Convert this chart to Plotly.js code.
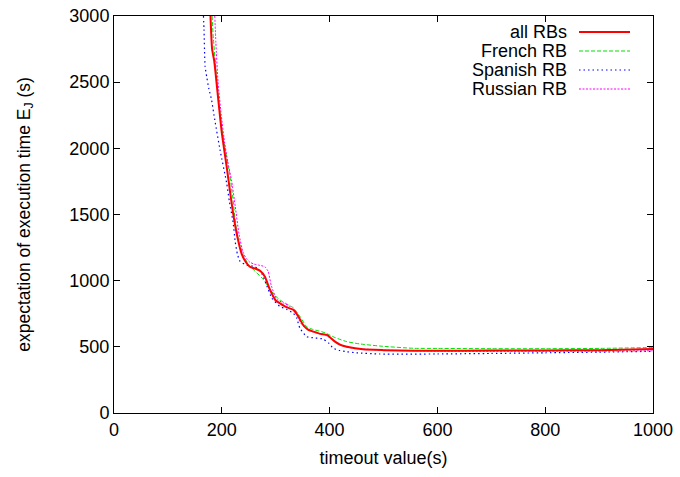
<!DOCTYPE html>
<html>
<head>
<meta charset="utf-8">
<script src="https://cdn.plot.ly/plotly-3.0.1.min.js"></script>
<style>html,body{margin:0;padding:0;background:#fff;}#chart{width:680px;height:477px;}</style>
</head>
<body>
<div id="chart"></div>
<script>
// Series names
const seriesNames = ["all RBs", "French RB", "Spanish RB", "Russian RB"];

// all RBs
const xAll = [179, 182, 186, 193.5, 200, 209, 221, 230, 237, 243, 252, 263, 271, 280, 289, 300, 308, 320, 333, 342, 351, 360, 370, 383, 395, 410, 420, 432, 462, 500, 555, 600, 700, 800, 900, 1000];
const yAll = [3000, 2750, 2660, 2366, 2116, 1862, 1509, 1310, 1200, 1150, 1105, 1090, 1075, 1030, 935, 850, 829, 800, 779, 730, 665, 630, 615, 598, 590, 539, 515, 501, 481, 475, 471, 470, 472, 472, 475, 483];

// French RB
const xFr = [182, 184, 188, 193, 200, 206, 214, 220, 226, 232, 240, 250, 262, 277, 290, 302, 308, 320, 333, 345, 357.5, 370, 385, 395, 410, 432, 456, 493, 555, 600, 700, 800, 900, 1000];
const yFr = [3000, 2850, 2650, 2400, 2150, 2000, 1820, 1640, 1420, 1290, 1190, 1120, 1070, 1010, 930, 875, 854, 825, 794, 730, 652, 630, 615, 600, 570, 539, 522, 506, 489, 488, 486, 486, 488, 495];

// Spanish RB
const xEs = [166, 167, 169, 172, 176, 181, 187, 196.7, 209, 214, 221, 225, 229, 234, 246, 262, 274, 283, 293, 308, 320, 333, 339, 345, 357.5, 370, 388, 398, 407, 419, 432, 450, 493, 600, 700, 800, 900, 1000];
const yEs = [3000, 2900, 2620, 2540, 2450, 2366, 2215, 1988, 1738, 1600, 1440, 1290, 1200, 1145, 1118, 1105, 1056, 968, 867, 805, 785, 753, 716, 640, 577, 568, 559, 530, 489, 472, 463, 455, 446, 446, 450, 455, 460, 466];

// Russian RB
const xRu = [187, 189, 193, 199, 205, 211, 218, 225, 232, 239, 245, 252, 260, 268, 280, 286, 292, 302, 315, 325, 336, 348, 360, 375, 390, 401, 415, 430, 450, 500, 600, 700, 800, 900, 1000];
const yRu = [3000, 2800, 2500, 2250, 2050, 1900, 1760, 1560, 1350, 1220, 1170, 1140, 1125, 1118, 1105, 1070, 960, 860, 830, 810, 760, 670, 628, 605, 592, 568, 530, 500, 487, 475, 468, 466, 467, 468, 470];

const xTicks = [0, 200, 400, 600, 800, 1000];
const yTicks = [0, 500, 1000, 1500, 2000, 2500, 3000];

const styles = [
  {color: "#ff0000", width: 2, dash: "solid"},
  {color: "#00e000", width: 1, dash: "4px,2px"},
  {color: "#0000ff", width: 1.2, dash: "1.5px,3px"},
  {color: "#ff00ff", width: 1, dash: "2px,1.5px"}
];
const xs = [xAll, xFr, xEs, xRu];
const ys = [yAll, yFr, yEs, yRu];

// draw order: French, Spanish, Russian, then all RBs on top
const order = [1, 2, 3, 0];
const traces = order.map(i => ({
  x: xs[i], y: ys[i], type: "scatter", mode: "lines", name: seriesNames[i],
  line: {color: styles[i].color, width: styles[i].width, dash: styles[i].dash, shape: "spline", smoothing: 0.5},
  showlegend: false, hoverinfo: "skip"
}));

const font = {family: "Liberation Sans, Arial, sans-serif", size: 18, color: "#000"};
const titleFont = {family: "Liberation Sans, Arial, sans-serif", size: 17.5, color: "#000"};

// gnuplot-style legend (text right-aligned, sample line on its right)
const annotations = [];
const shapes = [];
const legTop = 32, legStep = 19;
const W = 680, H = 477, mL = 114, mR = 27, mT = 16, mB = 64;
const pw = W - mL - mR, ph = H - mT - mB;
seriesNames.forEach((n, i) => {
  const py = legTop + i * legStep;
  const yp = 1 - (py - mT) / ph;
  annotations.push({
    xref: "paper", yref: "paper", x: (569 - mL) / pw, y: yp,
    xanchor: "right", yanchor: "middle", text: n, showarrow: false, font: font
  });
  shapes.push({
    type: "line", xref: "paper", yref: "paper",
    x0: (579 - mL) / pw, x1: (630 - mL) / pw, y0: yp, y1: yp,
    line: {color: styles[i].color, width: styles[i].width, dash: styles[i].dash}
  });
});

const axisCommon = {
  showline: true, mirror: "ticks", linecolor: "#000", linewidth: 1,
  ticks: "inside", ticklen: 6, tickwidth: 1, tickcolor: "#000",
  showgrid: false, zeroline: false, tickfont: font
};

const layout = {
  width: W, height: H,
  margin: {l: mL, r: mR, t: mT, b: mB},
  paper_bgcolor: "#fff", plot_bgcolor: "#fff",
  font: font,
  xaxis: Object.assign({}, axisCommon, {
    range: [0, 1000], tickvals: xTicks, ticktext: xTicks.map(String),
    title: {text: "timeout value(s)", font: font, standoff: 12}
  }),
  yaxis: Object.assign({}, axisCommon, {
    range: [0, 3000], tickvals: yTicks, ticktext: yTicks.map(String),
    title: {text: "expectation of execution time E<sub>J</sub> (s)", font: titleFont, standoff: 34}
  }),
  annotations: annotations,
  shapes: shapes,
  showlegend: false
};

Plotly.newPlot("chart", traces, layout, {displayModeBar: false, staticPlot: true});
</script>
</body>
</html>
